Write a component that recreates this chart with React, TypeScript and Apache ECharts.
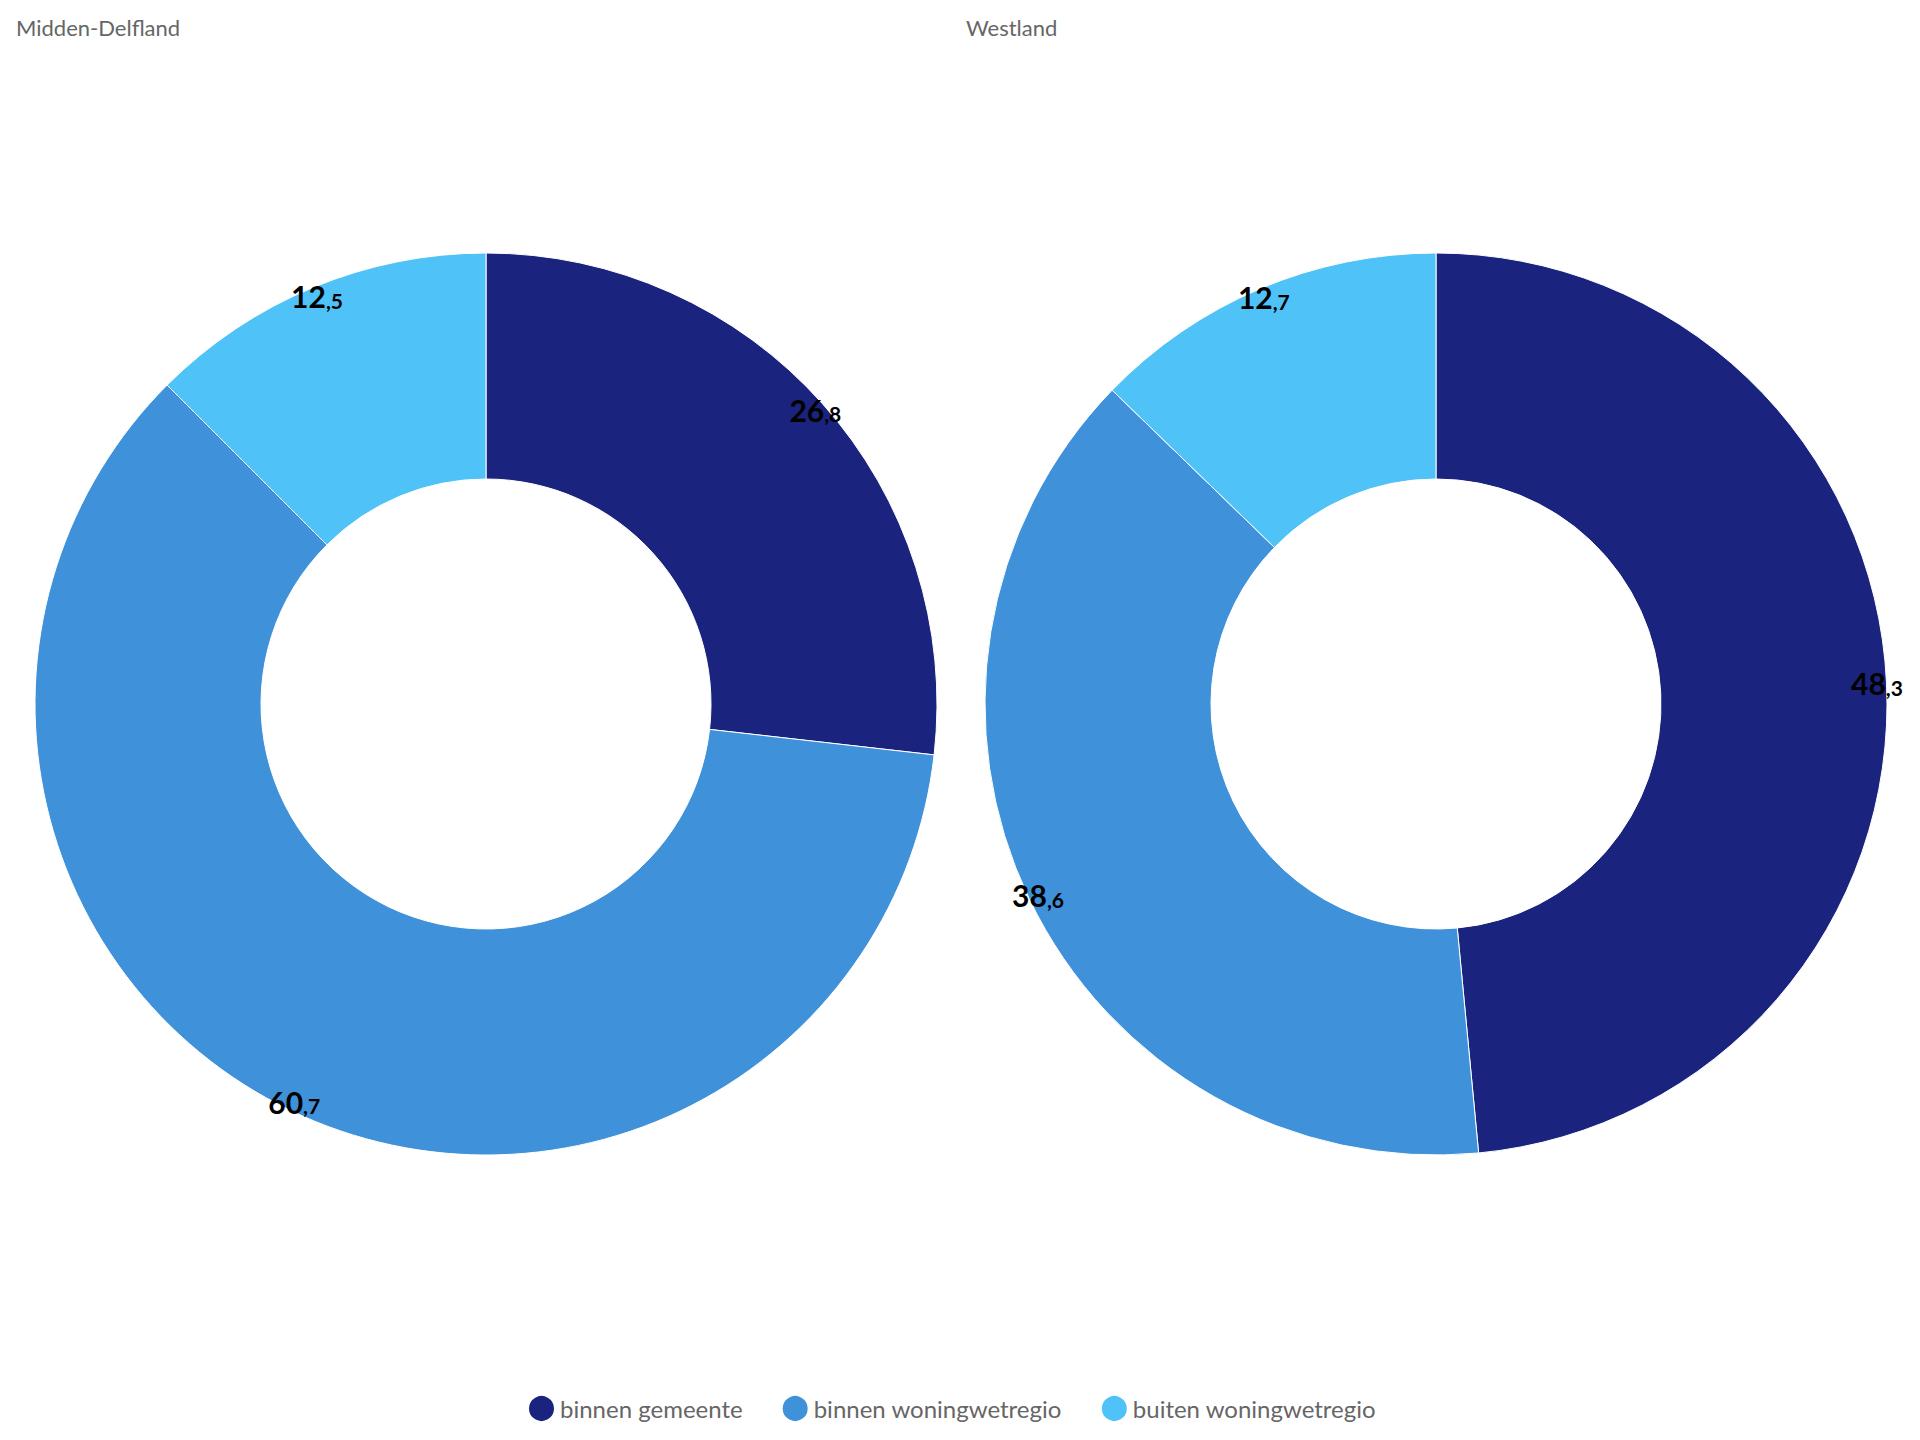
import React, { useEffect, useRef } from "react";
import * as echarts from "echarts";

const categories = ["binnen gemeente", "binnen woningwetregio", "buiten woningwetregio"];
const colors = ["#1a237e", "#3f91d9", "#4fc3f7"];
const regions = ["Midden-Delfland", "Westland"];
const middenDelfland = [26.8, 60.7, 12.5];
const westland = [48.3, 38.6, 12.7];

const FONT = "Lato, 'Noto Sans', sans-serif";

export default function App() {
  const ref = useRef<HTMLDivElement>(null);
  useEffect(() => {
    document.body.style.margin = "0";
    const chart = echarts.init(ref.current!, null, { renderer: "svg" });
    const values = [middenDelfland, westland];
    const centers = [[486, 704], [1436, 704]];
    const series: any[] = [];
    values.forEach((vals, i) => {
      const data = categories.map((c, j) => ({ name: c, value: vals[j], itemStyle: { color: colors[j] } }));
      series.push({
        type: "pie",
        center: centers[i],
        radius: [225, 451],
        startAngle: 90,
        clockwise: true,
        label: { show: false },
        labelLine: { show: false },
        itemStyle: { borderColor: "#ffffff", borderWidth: 1 },
        emphasis: { disabled: true },
        data,
      });
      series.push({
        type: "pie",
        center: centers[i],
        radius: [426, 451],
        startAngle: 90,
        clockwise: true,
        silent: true,
        legendHoverLink: false,
        itemStyle: { color: "rgba(0,0,0,0)" },
        emphasis: { disabled: true },
        labelLine: { show: false },
        label: {
          show: true,
          position: "inside",
          formatter: (p: any) => {
            const s = p.value.toFixed(1).split(".");
            return "{a|" + s[0] + "}{b|," + s[1] + "}";
          },
          rich: {
            a: { fontFamily: FONT, fontWeight: "bold", fontSize: 30, color: "#000000" },
            b: { fontFamily: FONT, fontWeight: "bold", fontSize: 21, color: "#000000", padding: [8, 0, 0, 0] },
          },
        },
        data: categories.map((c, j) => ({ name: c, value: vals[j] })),
      });
    });
    chart.setOption({
      animation: false,
      backgroundColor: "#ffffff",
      title: regions.map((r, i) => ({
        text: r,
        left: i === 0 ? 11 : 961,
        top: 11,
        textStyle: { fontFamily: FONT, fontSize: 22, fontWeight: "normal", color: "#666666" },
      })),
      legend: {
        bottom: 12,
        left: 522,
        icon: "circle",
        itemWidth: 27,
        itemHeight: 27,
        itemGap: 38,
        selectedMode: false,
        textStyle: { fontFamily: FONT, fontSize: 24, color: "#666666" },
        data: categories.map((c, j) => ({ name: c, itemStyle: { color: colors[j] } })),
      },
      series,
    });
    return () => chart.dispose();
  }, []);
  return <div ref={ref} style={{ width: 1920, height: 1440 }} />;
}
